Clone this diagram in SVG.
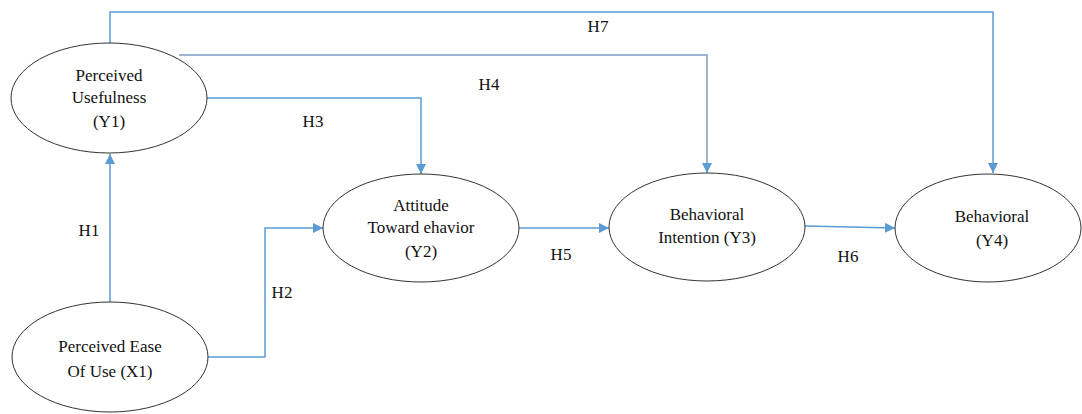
<svg xmlns="http://www.w3.org/2000/svg" width="1082" height="414" viewBox="0 0 1082 414" font-family="'Liberation Serif', 'DejaVu Serif', serif">
<style>
.node ellipse{fill:#fff;stroke:#333;stroke-width:1}
text{font-family:'Liberation Serif','DejaVu Serif',serif;font-size:17px;fill:#111;text-anchor:middle}
.conn{fill:none;stroke:#5b9bd5;stroke-width:1.5}
</style>
<defs>
<marker id="ah" viewBox="0 0 10 10" refX="10" refY="5" markerWidth="10" markerHeight="10" markerUnits="userSpaceOnUse" orient="auto">
<path d="M0,0 L10,5 L0,10 Z" fill="#5b9bd5"/>
</marker>
</defs>
<rect width="1082" height="414" fill="#fff"/>
<g id="connectors">
<path id="h1" class="conn" d="M110,303 V154" marker-end="url(#ah)"/>
<path id="h2" class="conn" d="M208,357 H265 V228 H323" marker-end="url(#ah)"/>
<path id="h3" class="conn" d="M207,98 H421 V174" marker-end="url(#ah)"/>
<path id="h4" class="conn" d="M179,55 H707 V173" marker-end="url(#ah)" style="stroke:#7f9fc4"/>
<path id="h5" class="conn" d="M518,228 H609" marker-end="url(#ah)"/>
<path id="h6" class="conn" d="M805,226 L895,228" marker-end="url(#ah)"/>
<path id="h7" class="conn" d="M110,44 V12 H993 V173" marker-end="url(#ah)"/>
<text x="89" y="236">H1</text>
<text x="282" y="298">H2</text>
<text x="313" y="127">H3</text>
<text x="489" y="90">H4</text>
<text x="561" y="260">H5</text>
<text x="848" y="262">H6</text>
<text x="598" y="32">H7</text>
</g>
<g id="y1" class="node">
<ellipse cx="109" cy="98" rx="98" ry="55"/>
<text x="109" y="81">Perceived</text>
<text x="109" y="103">Usefulness</text>
<text x="109" y="127">(Y1)</text>
</g>
<g id="x1" class="node">
<ellipse cx="110" cy="357" rx="98" ry="55"/>
<text x="110" y="352">Perceived Ease</text>
<text x="110" y="377">Of Use (X1)</text>
</g>
<g id="y2" class="node">
<ellipse cx="421" cy="228" rx="98" ry="54"/>
<text x="421" y="211">Attitude</text>
<text x="421" y="233">Toward ehavior</text>
<text x="421" y="257">(Y2)</text>
</g>
<g id="y3" class="node">
<ellipse cx="707" cy="227" rx="98" ry="54"/>
<text x="707" y="220">Behavioral</text>
<text x="707" y="243">Intention (Y3)</text>
</g>
<g id="y4" class="node">
<ellipse cx="988" cy="228" rx="93" ry="54"/>
<text x="992" y="222">Behavioral</text>
<text x="992" y="246">(Y4)</text>
</g>
</svg>
